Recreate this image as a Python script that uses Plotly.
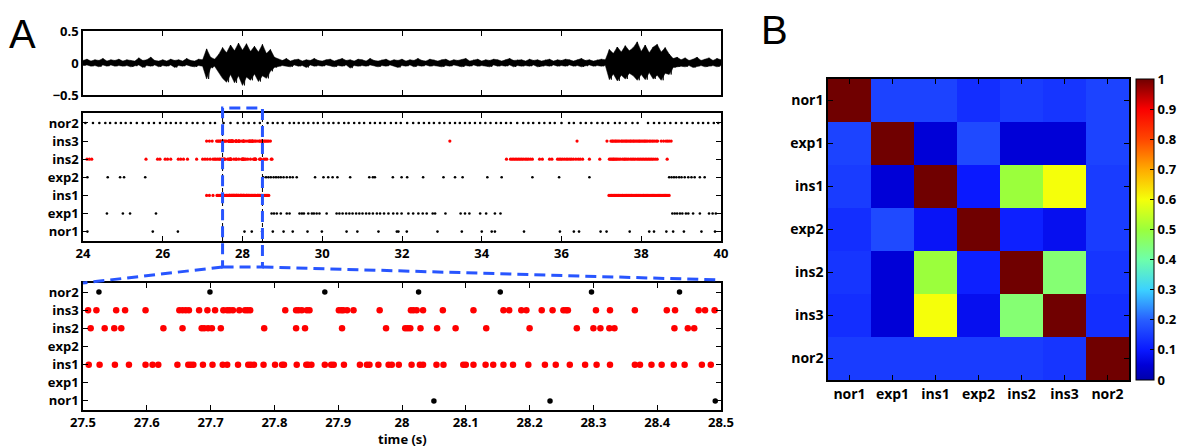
import numpy as np
import plotly.graph_objects as go

# ---- data: field signal envelope (read every 0.1 s from 24.0 to 40.0 s) ----
sig_t0 = 24.0
sig_dt = 0.1
sig_upper = [
    0.04, 0.06, 0.03, 0.05, 0.04, 0.07, 0.03, 0.05, 0.04, 0.06,
    0.03, 0.05, 0.04, 0.03, 0.08, 0.04, 0.05, 0.09, 0.04, 0.03,
    0.05, 0.03, 0.06, 0.04, 0.05, 0.03, 0.07, 0.04, 0.03, 0.06,
    0.05, 0.22, 0.09, 0.06, 0.13, 0.24, 0.16, 0.28, 0.19, 0.31,
    0.20, 0.30, 0.18, 0.26, 0.17, 0.29, 0.15, 0.21, 0.09, 0.06,
    0.04, 0.07, 0.03, 0.05, 0.06, 0.03, 0.05, 0.04, 0.07, 0.04,
    0.03, 0.05, 0.06, 0.03, 0.05, 0.07, 0.04, 0.05, 0.03, 0.06,
    0.05, 0.03, 0.07, 0.04, 0.03, 0.05, 0.06, 0.03, 0.05, 0.04,
    0.06, 0.03, 0.05, 0.04, 0.07, 0.04, 0.03, 0.06, 0.05, 0.03,
    0.05, 0.06, 0.03, 0.05, 0.04, 0.05, 0.07, 0.03, 0.05, 0.06,
    0.03, 0.05, 0.04, 0.06, 0.05, 0.03, 0.05, 0.07, 0.04, 0.05,
    0.05, 0.03, 0.06, 0.04, 0.05, 0.03, 0.05, 0.06, 0.03, 0.05,
    0.04, 0.06, 0.05, 0.03, 0.05, 0.07, 0.04, 0.05, 0.03, 0.05,
    0.06, 0.05, 0.21, 0.15, 0.25, 0.17, 0.27, 0.19, 0.24, 0.33,
    0.18, 0.28, 0.16, 0.25, 0.29, 0.17, 0.24, 0.14, 0.07, 0.09,
    0.05, 0.08, 0.04, 0.06, 0.09, 0.04, 0.06, 0.08, 0.04, 0.07,
    0.05]
sig_lower = [
    -0.04, -0.03, -0.05, -0.04, -0.06, -0.03, -0.05, -0.03, -0.05, -0.04,
    -0.05, -0.04, -0.06, -0.05, -0.03, -0.07, -0.04, -0.05, -0.03, -0.06,
    -0.04, -0.05, -0.03, -0.07, -0.04, -0.05, -0.03, -0.05, -0.06, -0.04,
    -0.05, -0.25, -0.08, -0.05, -0.15, -0.24, -0.30, -0.18, -0.31, -0.20,
    -0.35, -0.22, -0.27, -0.17, -0.29, -0.20, -0.24, -0.13, -0.07, -0.05,
    -0.04, -0.05, -0.06, -0.03, -0.05, -0.04, -0.07, -0.03, -0.05, -0.04,
    -0.05, -0.03, -0.05, -0.06, -0.04, -0.05, -0.03, -0.08, -0.04, -0.05,
    -0.04, -0.05, -0.03, -0.05, -0.06, -0.04, -0.05, -0.03, -0.05, -0.07,
    -0.04, -0.05, -0.03, -0.06, -0.04, -0.05, -0.03, -0.05, -0.04, -0.05,
    -0.06, -0.04, -0.05, -0.03, -0.05, -0.06, -0.04, -0.05, -0.03, -0.05,
    -0.04, -0.05, -0.06, -0.03, -0.05, -0.04, -0.05, -0.03, -0.06, -0.04,
    -0.05, -0.04, -0.05, -0.03, -0.06, -0.05, -0.04, -0.05, -0.03, -0.05,
    -0.04, -0.05, -0.03, -0.05, -0.04, -0.06, -0.05, -0.03, -0.05, -0.04,
    -0.05, -0.04, -0.26, -0.17, -0.28, -0.19, -0.25, -0.16, -0.20, -0.27,
    -0.18, -0.26, -0.15, -0.25, -0.19, -0.27, -0.16, -0.18, -0.07, -0.06,
    -0.05, -0.06, -0.04, -0.07, -0.05, -0.04, -0.06, -0.05, -0.04, -0.06,
    -0.04]

# ---- data: spike times (s) ----
nor1_t = [24.11, 25.75, 26.38, 28.050, 28.232, 28.491, 28.76, 29.03, 29.26, 29.63,
          29.99, 30.61, 30.88, 31.41, 31.87, 31.91, 32.12, 32.89, 33.50, 34.00, 34.25,
          34.33, 35.06, 35.96, 36.31, 36.44, 36.98, 37.13, 37.71, 38.20, 38.32,
          38.63, 38.80, 39.07, 39.51, 39.85]
exp1_t = [24.60, 25.00, 25.18, 25.83, 28.73, 28.79, 28.86, 28.96, 29.11, 29.18,
          29.43, 29.49, 29.54, 29.65, 29.74, 29.79, 29.86, 29.93, 30.11, 30.36,
          30.43, 30.51, 30.60, 30.68, 30.76, 30.85, 30.93, 31.01, 31.10, 31.18,
          31.27, 31.37, 31.45, 31.55, 31.66, 31.78, 31.88, 31.99, 32.16, 32.28,
          32.41, 32.52, 32.62, 32.77, 32.83, 33.09, 33.47, 33.58, 33.69, 33.96,
          34.11, 34.33, 34.47, 38.78, 38.84, 38.90, 38.97, 39.03, 39.12, 39.18,
          39.30, 39.47, 39.70, 39.79, 39.87]
ins1_t = [27.10, 27.17, 27.26, 27.36, 27.38, 27.41, 27.44, 27.46, 27.49,
          27.509, 27.526, 27.550, 27.572, 27.598, 27.609, 27.618, 27.648, 27.665,
          27.669, 27.673, 27.688, 27.703, 27.719, 27.726, 27.743, 27.759, 27.763,
          27.768, 27.783, 27.801, 27.812, 27.815, 27.835, 27.850, 27.853, 27.858,
          27.879, 27.889, 27.893, 27.909, 27.934, 27.945, 27.949, 27.963, 27.979,
          27.984, 27.995, 28.015, 28.028, 28.033, 28.054, 28.065, 28.096, 28.100,
          28.112, 28.131, 28.143, 28.159, 28.174, 28.198, 28.224, 28.241, 28.263,
          28.287, 28.305, 28.326, 28.365, 28.373, 28.391, 28.407, 28.426, 28.443,
          28.470, 28.484,
          28.51, 28.54, 28.57, 28.60, 28.63, 28.66,
          37.19, 37.22, 37.25, 37.27, 37.30, 37.33, 37.35, 37.38, 37.41, 37.43,
          37.46, 37.49, 37.52, 37.54, 37.57, 37.60, 37.63, 37.65, 37.68, 37.71,
          37.74, 37.76, 37.79, 37.82, 37.85, 37.88, 37.90, 37.93, 37.96, 37.99,
          38.02, 38.05, 38.07, 38.10, 38.13, 38.16, 38.19, 38.22, 38.25, 38.28,
          38.31, 38.34, 38.37, 38.40, 38.43, 38.46, 38.49, 38.52, 38.55, 38.58,
          38.61, 38.64, 38.67, 38.70]
exp2_t = [24.11, 24.62, 24.93, 25.03, 25.56, 28.52, 28.59, 28.65, 28.71, 28.78,
          28.84, 28.90, 28.96, 29.03, 29.11, 29.19, 29.26, 29.36, 29.82, 30.03,
          30.15, 30.26, 30.38, 30.70, 31.18, 31.27, 31.32, 31.77, 31.99, 32.13,
          32.53, 33.04, 33.33, 33.52, 34.14, 34.50, 35.27, 35.94, 36.70, 38.70,
          38.76, 38.82, 38.88, 38.95, 39.01, 39.09, 39.18, 39.26, 39.34, 39.47,
          39.59]
ins2_t = [24.10, 24.16, 24.22, 25.58, 25.87, 25.93, 26.06, 26.12, 26.20, 26.39,
          26.45, 26.52, 26.62, 26.85, 27.00, 27.06, 27.12, 27.19, 27.26, 27.30,
          27.33, 27.37, 27.41, 27.44, 27.48,
          27.512, 27.534, 27.549, 27.560, 27.626, 27.656, 27.686, 27.690, 27.696,
          27.702, 27.716, 27.784, 27.834, 27.848, 27.906, 27.975, 28.005, 28.009,
          28.013, 28.029, 28.055, 28.084, 28.132, 28.200, 28.274, 28.300, 28.311,
          28.325, 28.333, 28.427, 28.448, 28.458,
          28.53, 28.57, 28.61, 28.72, 28.74,
          34.62, 34.72, 34.76, 34.80, 34.84, 34.88, 34.92, 34.96, 35.00, 35.04,
          35.09, 35.13, 35.17, 35.22, 35.27, 35.45, 35.52, 35.70, 35.76, 35.90,
          35.94, 35.98, 36.02, 36.07, 36.12, 36.16, 36.21, 36.25, 36.30, 36.36,
          36.42, 36.47, 36.53, 36.70, 36.96, 37.20, 37.23, 37.26, 37.29, 37.31,
          37.34, 37.37, 37.40, 37.44, 37.48, 37.53, 37.57, 37.60, 37.64, 37.68,
          37.73, 37.77, 37.81, 37.85, 37.90, 37.94, 37.98, 38.02, 38.06, 38.10,
          38.14, 38.18, 38.22, 38.26, 38.30, 38.35, 38.40, 38.65]
ins3_t = [27.10, 27.17, 27.24, 27.35, 27.38, 27.40, 27.43, 27.45, 27.47,
          27.508, 27.521, 27.552, 27.566, 27.598, 27.651, 27.656, 27.661, 27.666,
          27.682, 27.695, 27.707, 27.720, 27.726, 27.730, 27.735, 27.745, 27.754,
          27.758, 27.762, 27.817, 27.834, 27.838, 27.843, 27.851, 27.855, 27.901,
          27.905, 27.908, 27.914, 27.924, 27.965, 28.014, 28.018, 28.023, 28.033,
          28.064, 28.112, 28.159, 28.168, 28.187, 28.195, 28.219, 28.236, 28.253,
          28.257, 28.260, 28.304, 28.326, 28.365, 28.415, 28.428, 28.465, 28.475,
          28.490,
          28.52, 28.55, 28.57, 28.60, 28.63, 28.66, 28.70,
          33.20, 36.39, 37.14,
          37.24, 37.27, 37.29, 37.32, 37.35, 37.37, 37.40, 37.43, 37.46, 37.50,
          37.52, 37.55, 37.58, 37.61, 37.63, 37.66, 37.69, 37.72, 37.74, 37.77,
          37.80, 37.82, 37.85, 37.88, 37.91, 37.94, 37.96, 37.99, 38.02, 38.05,
          38.08, 38.10, 38.13, 38.16, 38.20, 38.23, 38.27, 38.30, 38.34, 38.38,
          38.41, 38.50, 38.56, 38.62, 38.66, 38.70, 38.75]
nor2_t = [24.06, 24.25, 24.41, 24.56, 24.68, 24.82, 24.95, 25.07, 25.20, 25.35,
          25.50, 25.65, 25.78, 25.93, 26.08, 26.20, 26.33, 26.45, 26.60, 26.75,
          26.87, 27.02, 27.19, 27.31, 27.525, 27.699, 27.879, 28.026, 28.154,
          28.297, 28.435, 28.63, 28.76, 28.88, 29.01, 29.18, 29.29, 29.41, 29.53,
          29.65, 29.78, 29.89, 30.03, 30.16, 30.28, 30.41, 30.55, 30.66, 30.80,
          30.93, 31.05, 31.20, 31.32, 31.45, 31.57, 31.72, 31.85, 31.97, 32.13,
          32.28, 32.42, 32.55, 32.68, 32.80, 32.94, 33.06, 33.20, 33.33, 33.45,
          33.58, 33.70, 33.83, 33.96, 34.09, 34.22, 34.36, 34.48, 34.61, 34.73,
          34.89, 35.04, 35.17, 35.29, 35.44, 35.57, 35.71, 35.83, 36.00, 36.19,
          36.31, 36.48, 36.61, 36.75, 36.90, 37.03, 37.17, 37.34, 37.46, 37.61,
          37.78, 37.91, 38.17, 38.32, 38.45, 38.59, 38.73, 38.87, 39.01, 39.15,
          39.29, 39.43, 39.55, 39.68, 39.82, 39.93]

neuron_names = ["nor1", "exp1", "ins1", "exp2", "ins2", "ins3", "nor2"]
spike_times = [nor1_t, exp1_t, ins1_t, exp2_t, ins2_t, ins3_t, nor2_t]
zoom_window = [27.5, 28.5]

# ---- data: correlation matrix (rows/cols in neuron_names order) ----
corr = [
    [1.00, 0.16, 0.16, 0.13, 0.15, 0.14, 0.16],
    [0.16, 1.00, 0.05, 0.17, 0.05, 0.05, 0.16],
    [0.15, 0.05, 1.00, 0.10, 0.50, 0.60, 0.15],
    [0.13, 0.17, 0.09, 1.00, 0.11, 0.08, 0.15],
    [0.14, 0.05, 0.50, 0.11, 1.00, 0.45, 0.14],
    [0.13, 0.05, 0.60, 0.08, 0.45, 1.00, 0.13],
    [0.15, 0.15, 0.15, 0.15, 0.15, 0.14, 1.00],
]

W, H = 1178, 447
def px_x(p):
    return p / W
def px_y(p):
    return 1 - p / H

tick_font = dict(family="Open Sans", size=13, color="black", weight="bold")
frame = dict(showline=True, linecolor="black", linewidth=1.5, mirror="ticks",
             ticks="inside", ticklen=5, tickcolor="black", tickwidth=1,
             showgrid=False, zeroline=False, tickfont=tick_font, automargin=False)

xdom_a = [px_x(83), px_x(721)]

fig = go.Figure()

# top: raw signal, envelope band plus zigzag for texture
sig_time = [sig_t0 + i * sig_dt for i in range(len(sig_upper))]
fig.add_trace(go.Scatter(x=sig_time, y=sig_lower, mode="lines", line=dict(color="black", width=0.5),
                         xaxis="x", yaxis="y", showlegend=False, hoverinfo="skip"))
fig.add_trace(go.Scatter(x=sig_time, y=sig_upper, mode="lines", line=dict(color="black", width=0.5),
                         fill="tonexty", fillcolor="black",
                         xaxis="x", yaxis="y", showlegend=False, hoverinfo="skip"))
zx, zy = [], []
for t, u, l in zip(sig_time, sig_upper, sig_lower):
    zx += [t, t + sig_dt / 2]
    zy += [u, l]
fig.add_trace(go.Scatter(x=zx, y=zy, mode="lines", line=dict(color="black", width=0.8),
                         xaxis="x", yaxis="y", showlegend=False, hoverinfo="skip"))

# rasters
for k, (name, times) in enumerate(zip(neuron_names, spike_times)):
    col = "#ff0000" if name.startswith("ins") else "black"
    ypos = [k + 1] * len(times)
    fig.add_trace(go.Scatter(x=times, y=ypos, mode="markers",
                             marker=dict(color=col, size=3.2 if col != "black" else 2.6),
                             xaxis="x2", yaxis="y2", showlegend=False))
    fig.add_trace(go.Scatter(x=times, y=ypos, mode="markers",
                             marker=dict(color=col, size=6.5 if col != "black" else 5.5),
                             xaxis="x3", yaxis="y3", showlegend=False))

# heatmap
jet = [
    [0.0, "rgb(0,0,170)"], [0.05, "rgb(0,0,215)"], [0.1, "rgb(10,25,255)"],
    [0.2, "rgb(40,95,255)"], [0.3, "rgb(60,210,255)"], [0.4, "rgb(110,255,170)"],
    [0.5, "rgb(155,255,60)"], [0.6, "rgb(245,255,10)"], [0.7, "rgb(255,170,0)"],
    [0.8, "rgb(255,70,0)"], [0.9, "rgb(250,0,0)"], [1.0, "rgb(112,0,0)"],
]
fig.add_trace(go.Heatmap(
    z=corr, x=neuron_names, y=neuron_names, xaxis="x4", yaxis="y4",
    colorscale=jet, zmin=0, zmax=1, xgap=0, ygap=0,
    colorbar=dict(x=px_x(1136), xanchor="left", y=px_y(229.5), yanchor="middle",
                  len=(380 - 79) / H, lenmode="fraction", thickness=18, xpad=0, ypad=0,
                  outlinecolor="black", outlinewidth=1,
                  tickvals=[0, 0.1, 0.2, 0.3, 0.4, 0.5, 0.6, 0.7, 0.8, 0.9, 1],
                  ticktext=["0", "0.1", "0.2", "0.3", "0.4", "0.5", "0.6", "0.7", "0.8", "0.9", "1"],
                  ticks="inside", ticklen=4, tickcolor="black",
                  tickfont=dict(family="Open Sans", size=13, color="black", weight="bold")),
))

fig.update_layout(
    width=W, height=H, margin=dict(l=0, r=0, t=0, b=0, autoexpand=False),
    paper_bgcolor="white", plot_bgcolor="white",
    xaxis=dict(frame, domain=xdom_a, anchor="y", range=[24, 40], dtick=2, showticklabels=False),
    yaxis=dict(frame, domain=[px_y(95), px_y(31)], anchor="x", range=[-0.5, 0.5],
               tickvals=[-0.5, 0, 0.5], ticktext=["\u22120.5", "0", "0.5"]),
    xaxis2=dict(frame, domain=xdom_a, anchor="y2", range=[24, 40], dtick=2),
    yaxis2=dict(frame, domain=[px_y(241), px_y(113)], anchor="x2", range=[0.48, 7.55],
                tickvals=list(range(1, 8)), ticktext=neuron_names),
    xaxis3=dict(frame, domain=xdom_a, anchor="y3", range=zoom_window, dtick=0.1, tick0=27.5),
    yaxis3=dict(frame, domain=[px_y(410), px_y(283)], anchor="x3", range=[0.5, 7.5],
                tickvals=list(range(1, 8)), ticktext=neuron_names),
    xaxis4=dict(frame, domain=[px_x(828), px_x(1129)], anchor="y4",
                tickfont=dict(tick_font, size=14)),
    yaxis4=dict(frame, domain=[px_y(380), px_y(79)], anchor="x4", autorange="reversed",
                tickfont=dict(tick_font, size=14)),
)

# zoom markers
blue = "rgb(40,85,255)"
shapes = []
for t in zoom_window:
    shapes.append(dict(type="line", xref="x2", yref="y2 domain", x0=t, x1=t, y0=0, y1=1,
                       line=dict(color="black", width=1, dash="4px,3px")))
shapes.append(dict(type="rect", xref="x2", yref="paper", x0=zoom_window[0], x1=zoom_window[1],
                   y0=px_y(267), y1=px_y(108), line=dict(color=blue, width=3, dash="11px,6px")))

def a_paper_x(t):
    return xdom_a[0] + (t - 24) / 16 * (xdom_a[1] - xdom_a[0])

shapes.append(dict(type="line", xref="paper", yref="paper",
                   x0=a_paper_x(zoom_window[0]), y0=px_y(267), x1=xdom_a[0], y1=px_y(283),
                   line=dict(color=blue, width=3, dash="11px,6px")))
shapes.append(dict(type="line", xref="paper", yref="paper",
                   x0=a_paper_x(zoom_window[1]), y0=px_y(267), x1=xdom_a[1], y1=px_y(280),
                   line=dict(color=blue, width=3, dash="11px,6px")))
fig.update_layout(shapes=shapes)

fig.add_annotation(text="time (s)", x=(xdom_a[0] + xdom_a[1]) / 2, y=px_y(439),
                   xref="paper", yref="paper", xanchor="center", yanchor="middle",
                   showarrow=False, font=tick_font)
fig.add_annotation(text="A", x=px_x(7), y=px_y(10), xref="paper", yref="paper",
                   xanchor="left", yanchor="top", showarrow=False,
                   font=dict(family="Liberation Sans", size=40, color="black"))
fig.add_annotation(text="B", x=px_x(759), y=px_y(6), xref="paper", yref="paper",
                   xanchor="left", yanchor="top", showarrow=False,
                   font=dict(family="Liberation Sans", size=40, color="black"))

# drop the default 8px body margin so the figure sits at the window's corner
fig.write_html("out.html", config={"displayModeBar": False},
               post_script="document.body.style.margin='0px';document.body.style.overflow='hidden';")
